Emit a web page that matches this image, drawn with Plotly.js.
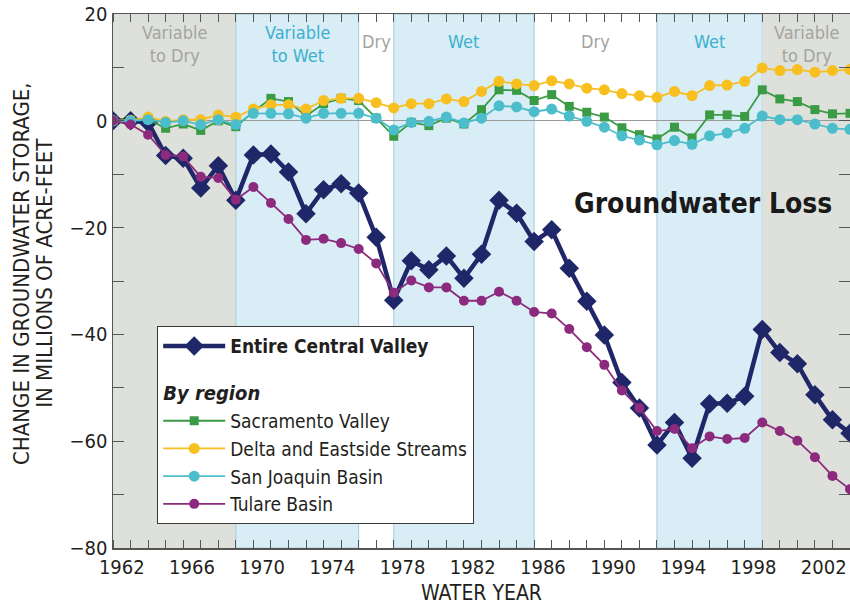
<!DOCTYPE html>
<html>
<head>
<meta charset="utf-8">
<script src="https://cdn.plot.ly/plotly-3.0.1.min.js"></script>
<style>
  html, body { margin: 0; padding: 0; background: #ffffff; }
  #chart { width: 850px; height: 606px; }
</style>
</head>
<body>
<div id="chart"></div>
<script>
// End-of-water-year storage change, millions of acre-feet (cumulative from 1961)
const waterYear = [1961, 1962, 1963, 1964, 1965, 1966, 1967, 1968, 1969, 1970,
                   1971, 1972, 1973, 1974, 1975, 1976, 1977, 1978, 1979, 1980,
                   1981, 1982, 1983, 1984, 1985, 1986, 1987, 1988, 1989, 1990,
                   1991, 1992, 1993, 1994, 1995, 1996, 1997, 1998, 1999, 2000,
                   2001, 2002, 2003];

const entireValley = [0, 0, -0.3, -6.5, -7.0, -12.6, -8.4, -14.9, -6.4, -6.2,
                      -9.6, -17.4, -12.9, -11.8, -13.5, -21.8, -33.6, -26.2, -27.9, -25.3,
                      -29.5, -25.0, -14.9, -17.3, -22.6, -20.4, -27.6, -33.8, -40.1, -49.0,
                      -53.8, -60.7, -56.5, -63.2, -53.0, -52.9, -51.6, -39.1, -43.4, -45.5,
                      -51.3, -56.0, -58.5];

const sacramentoValley = [0, 0.1, 0.3, -1.4, -0.6, -1.8, 0, -1.1, 1.7, 4.2,
                          3.6, 0.9, 3.2, 4.2, 3.8, 0.5, -2.9, -0.3, -0.9, 0.5,
                          -0.6, 2.1, 5.8, 5.7, 3.8, 4.9, 2.7, 1.6, 0.7, -1.3,
                          -2.6, -3.4, -1.2, -3.2, 1.1, 1.1, 0.8, 5.8, 4.1, 3.6,
                          2.1, 1.3, 1.4];

const deltaEastside = [0, 0.1, 0.7, -0.1, 0.2, 0.2, 1.1, 0.7, 2.2, 3.0,
                       3.0, 2.2, 3.8, 4.2, 4.2, 3.4, 2.4, 3.2, 3.2, 4.1,
                       3.6, 5.5, 7.4, 6.9, 6.6, 7.5, 6.9, 6.1, 5.8, 5.1,
                       4.7, 4.4, 5.5, 4.7, 6.6, 6.7, 7.4, 9.9, 9.4, 9.6,
                       9.1, 9.4, 9.6];

const sanJoaquin = [0, 0, 0.2, -0.3, 0, -0.7, 0.2, -0.7, 1.4, 1.4,
                    1.3, 0.5, 1.4, 1.4, 1.4, 0.5, -1.7, -0.3, -0.1, 0.7,
                    -0.4, 0.5, 2.8, 2.6, 1.7, 2.2, 0.9, -0.1, -1.2, -2.8,
                    -3.6, -4.5, -3.7, -4.4, -2.8, -2.3, -1.4, 0.9, 0.2, 0.2,
                    -0.6, -1.4, -1.6];

const tulare = [0, -0.7, -2.6, -6.4, -6.7, -10.5, -10.7, -14.8, -12.4, -15.4,
                -18.4, -22.3, -22.1, -22.9, -24.0, -26.7, -32.2, -29.9, -31.2, -31.2,
                -33.7, -33.7, -32.0, -33.7, -35.8, -36.1, -39.0, -42.4, -45.7, -50.5,
                -53.8, -58.1, -57.7, -61.3, -59.1, -59.6, -59.4, -56.5, -58.1, -59.9,
                -63.0, -66.5, -69.0];

// Climate periods (inclusive water years)
const periodFirstYear = [1962, 1969, 1976, 1978, 1986, 1993, 1999];
const periodLastYear  = [1968, 1975, 1977, 1985, 1992, 1998, 2003];
const periodLabel = ['Variable<br>to Dry', 'Variable<br>to Wet', 'Dry', 'Wet', 'Dry', 'Wet', 'Variable<br>to Dry'];
const periodKind  = ['varDry', 'varWet', 'dry', 'wet', 'dry', 'wet', 'varDry'];

const xTickYears = [1962, 1966, 1970, 1974, 1978, 1982, 1986, 1990, 1994, 1998, 2002];

const yTitleLines = ['CHANGE IN GROUNDWATER STORAGE,', 'IN MILLIONS OF ACRE-FEET'];

// Each value is the state at the end of its water year, i.e. on the
// boundary between that year's label slot and the next one.
const xEnd = waterYear.map(y => y + 0.5);

const FONT = '"Liberation Sans Narrow", "DejaVu Sans Condensed", "Roboto Condensed", "Arial Narrow", sans-serif';
const TEXT = '#231f20';

const kindStyle = {
  varDry: { fill: '#dee1db', label: '#a3a49e', edge: 'rgba(0,0,0,0)' },
  varWet: { fill: '#d8edf5', label: '#3cb0d0', edge: '#a9cbd6' },
  wet:    { fill: '#d8edf5', label: '#3cb0d0', edge: '#a9cbd6' },
  dry:    { fill: 'rgba(0,0,0,0)', label: '#a3a49e', edge: 'rgba(0,0,0,0)' }
};

const shapes = periodFirstYear.map((first, i) => {
  const st = kindStyle[periodKind[i]];
  return {
    type: 'rect', layer: 'below', xref: 'x', yref: 'paper',
    x0: first - 0.5, x1: periodLastYear[i] + 0.5, y0: 0, y1: 1,
    fillcolor: st.fill, line: { color: st.edge, width: 1 }
  };
});

const annotations = periodFirstYear.map((first, i) => {
  const st = kindStyle[periodKind[i]];
  const twoLine = periodLabel[i].indexOf('<br>') >= 0;
  return {
    xref: 'x', yref: 'paper',
    x: (first - 0.5 + periodLastYear[i] + 0.5) / 2,
    y: twoLine ? 0.943 : 0.948,
    text: periodLabel[i], showarrow: false,
    xanchor: 'center', yanchor: 'middle',
    font: { family: FONT, size: 18, color: st.label }
  };
});

annotations.push({
  xref: 'paper', yref: 'paper', x: 0.801, y: 0.646,
  text: '<b>Groundwater Loss</b>', showarrow: false,
  xanchor: 'center', yanchor: 'middle',
  font: { family: FONT, size: 28, color: '#1a1a1a' }
});

// Two-line vertical axis title, one rotated annotation per line
[-0.1235, -0.0925].forEach((px, i) => {
  annotations.push({
    xref: 'paper', yref: 'paper', x: px, y: 0.515,
    text: yTitleLines[i], showarrow: false, textangle: -90,
    xanchor: 'center', yanchor: 'middle',
    font: { family: FONT, size: 22, color: TEXT }
  });
});

const regionMarker = (color, symbol, size) => ({ symbol: symbol, size: size, color: color, line: { width: 0 } });

const traces = [
  {
    name: '<b>Entire Central Valley</b>', legendgroup: 'total',
    x: xEnd, y: entireValley, mode: 'lines+markers',
    line: { color: '#1f2768', width: 4.5 },
    marker: regionMarker('#1f2768', 'diamond', 15)
  },
  {
    name: 'Sacramento Valley', legendgroup: 'region',
    legendgrouptitle: { text: 'By region', font: { family: FONT, size: 20, color: TEXT, weight: 'bold', style: 'italic' } },
    x: xEnd, y: sacramentoValley, mode: 'lines+markers',
    line: { color: '#3b9b45', width: 1.8 },
    marker: regionMarker('#3b9b45', 'square', 9)
  },
  {
    name: 'Delta and Eastside Streams', legendgroup: 'region',
    x: xEnd, y: deltaEastside, mode: 'lines+markers',
    line: { color: '#f7bf1f', width: 1.8 },
    marker: regionMarker('#f7bf1f', 'circle', 11)
  },
  {
    name: 'San Joaquin Basin', legendgroup: 'region',
    x: xEnd, y: sanJoaquin, mode: 'lines+markers',
    line: { color: '#4bbdcb', width: 1.8 },
    marker: regionMarker('#4bbdcb', 'circle', 11)
  },
  {
    name: 'Tulare Basin', legendgroup: 'region',
    x: xEnd, y: tulare, mode: 'lines+markers',
    line: { color: '#8c2a7e', width: 1.8 },
    marker: regionMarker('#8c2a7e', 'circle', 10)
  }
];

const axisColor = '#555555';

const layout = {
  width: 850, height: 606,
  margin: { l: 113, r: 0, t: 14, b: 58 },
  paper_bgcolor: '#ffffff', plot_bgcolor: '#ffffff',
  font: { family: FONT, size: 18, color: TEXT },
  showlegend: true,
  legend: {
    x: 0.0597, y: 0.4157, xanchor: 'left', yanchor: 'top',
    bgcolor: '#ffffff', bordercolor: '#3a3a3a', borderwidth: 1.2,
    font: { family: FONT, size: 19, color: TEXT },
    traceorder: 'grouped', tracegroupgap: 18, itemwidth: 62
  },
  xaxis: {
    range: [1961.5, 2003.5], tickmode: 'array', tickvals: xTickYears,
    ticktext: xTickYears.map(String),
    ticks: '', showgrid: false, zeroline: false,
    showline: true, linecolor: axisColor, linewidth: 1.5, mirror: 'ticks',
    tickfont: { family: FONT, size: 20, color: TEXT },
    minor: { tick0: 1961.5, dtick: 1, ticks: 'inside', ticklen: 8, tickcolor: axisColor, tickwidth: 1, showgrid: false },
    title: { text: 'WATER YEAR', font: { family: FONT, size: 21, color: TEXT }, standoff: 8 }
  },
  yaxis: {
    range: [-80, 20], dtick: 20, tick0: 0,
    ticks: 'inside', ticklen: 11, tickcolor: axisColor, tickwidth: 1,
    minor: { dtick: 10, ticks: 'inside', ticklen: 11, tickcolor: axisColor, tickwidth: 1, showgrid: false },
    showgrid: false, zeroline: true, zerolinecolor: '#9b9b9b', zerolinewidth: 1,
    showline: true, linecolor: axisColor, linewidth: 1.5, mirror: 'ticks',
    tickfont: { family: FONT, size: 20, color: TEXT }
  },
  shapes: shapes,
  annotations: annotations,
  hovermode: false
};

Plotly.newPlot('chart', traces, layout, { displayModeBar: false, staticPlot: true });
</script>
</body>
</html>
